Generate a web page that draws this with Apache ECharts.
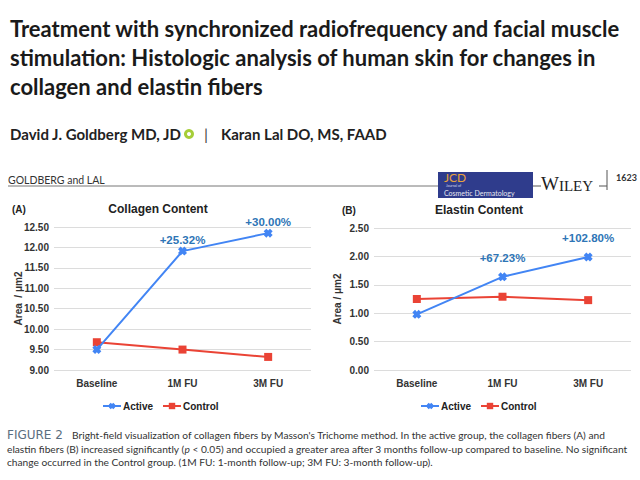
<!DOCTYPE html>
<html>
<head>
<meta charset="utf-8">
<script src="https://cdn.jsdelivr.net/npm/echarts@6/dist/echarts.min.js"></script>
<style>
  html, body { margin: 0; padding: 0; background: #fff; }
  #chart { width: 640px; height: 480px; }
</style>
</head>
<body>
<div id="chart"></div>
<script>
// data
var categories = ["Baseline", "1M FU", "3M FU"];
var collagenActive = [9.50, 11.91, 12.35];
var collagenControl = [9.68, 9.50, 9.32];
var collagenLabels = ["", "+25.32%", "+30.00%"];
var elastinActive = [0.98, 1.64, 1.99];
var elastinControl = [1.25, 1.29, 1.23];
var elastinLabels = ["", "+67.23%", "+102.80%"];
var seriesNames = ["Active", "Control"];

var titleLines = [
    "Treatment with synchronized radiofrequency and facial muscle",
    "stimulation: Histologic analysis of human skin for changes in",
    "collagen and elastin fibers"
];
var captionLines = [
    "Bright-field visualization of collagen fibers by Masson's Trichome method. In the active group, the collagen fibers (A) and",
    "elastin fibers (B) increased significantly ({i|p} < 0.05) and occupied a greater area after 3 months follow-up compared to baseline. No significant",
    "change occurred in the Control group. (1M FU: 1-month follow-up; 3M FU: 3-month follow-up)."
];

var chart = echarts.init(document.getElementById("chart"), null, { renderer: "svg" });

var FONT = "Arial, 'Liberation Sans', sans-serif";
var PAPER = "Lato, 'Open Sans', sans-serif";
var BLUE = "#4285F4";
var RED = "#EA4335";
var crossSymbol = "path://M3,0 L5,2 L7,0 L10,3 L8,5 L10,7 L7,10 L5,8 L3,10 L0,7 L2,5 L0,3 Z";

function xAxisFor(grid) {
    return {
        type: "category",
        gridIndex: grid,
        data: categories,
        axisLine: { show: false },
        axisTick: { show: false },
        axisLabel: { color: "#333", fontWeight: "bold", fontSize: 10, fontFamily: FONT, margin: 8 }
    };
}

function yAxisFor(grid, min, max, gap) {
    return {
        type: "value",
        gridIndex: grid,
        min: min,
        max: max,
        interval: 0.5,
        name: grid === 0 ? "Area  / \u03bcm2" : "Area / \u03bcm2",
        nameLocation: "middle",
        nameGap: gap,
        nameMoveOverlap: false,
        nameTextStyle: { color: "#333", fontWeight: "bold", fontSize: 10, fontFamily: FONT },
        axisLine: { show: false },
        axisTick: { show: false },
        axisLabel: {
            color: "#333", fontWeight: "bold", fontSize: 10, fontFamily: FONT, margin: 5,
            formatter: function (v) { return v.toFixed(2); }
        },
        splitLine: { lineStyle: { color: "#dcdcdc" } }
    };
}

function lineSeries(name, grid, values, labels, dist) {
    var active = name === "Active";
    return {
        name: name,
        type: "line",
        xAxisIndex: grid,
        yAxisIndex: grid,
        data: values,
        symbol: active ? crossSymbol : "rect",
        symbolSize: active ? 9 : 8,
        lineStyle: { width: 2, color: active ? BLUE : RED },
        itemStyle: { color: active ? BLUE : RED },
        z: active ? 3 : 2,
        label: {
            show: !!labels,
            position: "top",
            distance: dist,
            color: "#2E75B6",
            fontWeight: "bold",
            fontSize: 11.5,
            fontFamily: FONT,
            formatter: function (p) { return labels ? labels[p.dataIndex] : ""; }
        }
    };
}

function legendFor(left) {
    return {
        left: left,
        top: 396,
        itemWidth: 18,
        itemHeight: 8,
        itemGap: 9,
        data: seriesNames,
        textStyle: { color: "#222", fontWeight: "bold", fontSize: 10, fontFamily: FONT, padding: [0, 0, 0, -3] }
    };
}

var graphics = [];
titleLines.forEach(function (t, i) {
    graphics.push({
        type: "text", x: 10, y: 28 + i * 29,
        style: { text: t, fill: "#1a1a1a", font: "bold 22px " + PAPER, verticalAlign: "middle" }
    });
});
graphics.push(
    { type: "text", x: 10, y: 134, style: { text: "David J. Goldberg MD, JD", fill: "#222", font: "bold 15px " + PAPER, verticalAlign: "middle" } },
    { type: "circle", shape: { cx: 189, cy: 134, r: 5 }, style: { fill: "#A6CE39" } },
    { type: "circle", shape: { cx: 189, cy: 134, r: 2 }, style: { fill: "#fff" } },
    { type: "text", x: 204, y: 133, style: { text: "|", fill: "#444", font: "16px " + PAPER, verticalAlign: "middle" } },
    { type: "text", x: 221, y: 134, style: { text: "Karan Lal DO, MS, FAAD", fill: "#222", font: "bold 15px " + PAPER, verticalAlign: "middle" } },
    // running header
    { type: "text", left: 8, top: 174, style: { text: "GOLDBERG and LAL", fill: "#333", font: "10.5px " + PAPER } },
    { type: "line", shape: { x1: 8, y1: 186, x2: 438, y2: 186 }, style: { stroke: "#777", lineWidth: 1 } },
    { type: "rect", shape: { x: 438, y: 172, width: 95, height: 26 }, style: { fill: "#2F3C8C" } },
    { type: "text", left: 444, top: 171, style: { text: "JCD", fill: "#E9A23B", font: "12px " + PAPER } },
    { type: "text", left: 446, top: 184, style: { text: "Journal of", fill: "#d8d8e8", font: "3.5px " + PAPER } },
    { type: "text", left: 444, top: 189, style: { text: "Cosmetic Dermatology", fill: "#e6e6ef", font: "7px " + PAPER } },
    { type: "line", shape: { x1: 533, y1: 186, x2: 541, y2: 186 }, style: { stroke: "#555", lineWidth: 1 } },
    {
        type: "text", left: 541, top: 174,
        style: {
            text: "{a|W}{b|ILEY}", fill: "#222",
            rich: {
                a: { fontFamily: "'Liberation Serif', serif", fontSize: 19, fill: "#222", verticalAlign: "bottom" },
                b: { fontFamily: "'Liberation Serif', serif", fontSize: 15, fill: "#222", verticalAlign: "bottom" }
            }
        }
    },
    { type: "line", shape: { x1: 599, y1: 186, x2: 607, y2: 186 }, style: { stroke: "#555", lineWidth: 1 } },
    { type: "line", shape: { x1: 607, y1: 170, x2: 607, y2: 190 }, style: { stroke: "#555", lineWidth: 1 } },
    { type: "text", left: 616, top: 173, style: { text: "1623", fill: "#333", font: "bold 9px " + PAPER } },
    // panel titles
    { type: "text", left: 12, top: 204, style: { text: "(A)", fill: "#222", font: "bold 10px " + FONT } },
    { type: "text", x: 158, y: 209, style: { text: "Collagen Content", fill: "#222", font: "bold 12px " + FONT, align: "center", verticalAlign: "middle" } },
    { type: "text", left: 342, top: 205, style: { text: "(B)", fill: "#222", font: "bold 10px " + FONT } },
    { type: "text", x: 479, y: 210, style: { text: "Elastin Content", fill: "#222", font: "bold 12px " + FONT, align: "center", verticalAlign: "middle" } },
    // caption
    { type: "text", x: 7, y: 435, style: { text: "FIGURE 2", fill: "#5A6E80", font: "12px 'DejaVu Sans', sans-serif", verticalAlign: "middle" } }
);
captionLines.forEach(function (t, i) {
    graphics.push({
        type: "text", x: i === 0 ? 72 : 7, y: 435 + i * 13.5,
        style: {
            text: t, fill: "#333", font: "10.2px " + PAPER, verticalAlign: "middle",
            rich: { i: { fontStyle: "italic", fontSize: 10.2, fontFamily: PAPER, fill: "#333" } }
        }
    });
});

var option = {
    backgroundColor: "#fff",
    animation: false,
    grid: [
        { left: 54, top: 227, width: 257, height: 143 },
        { left: 374, top: 228, width: 257, height: 142 }
    ],
    xAxis: [xAxisFor(0), xAxisFor(1)],
    yAxis: [yAxisFor(0, 9, 12.5, 31), yAxisFor(1, 0, 2.5, 32)],
    legend: [legendFor(97), legendFor(415)],
    series: [
        lineSeries("Active", 0, collagenActive, collagenLabels, 1),
        lineSeries("Control", 0, collagenControl, null, 0),
        lineSeries("Active", 1, elastinActive, elastinLabels, 8),
        lineSeries("Control", 1, elastinControl, null, 0)
    ],
    graphic: graphics
};

chart.setOption(option);
</script>
</body>
</html>
